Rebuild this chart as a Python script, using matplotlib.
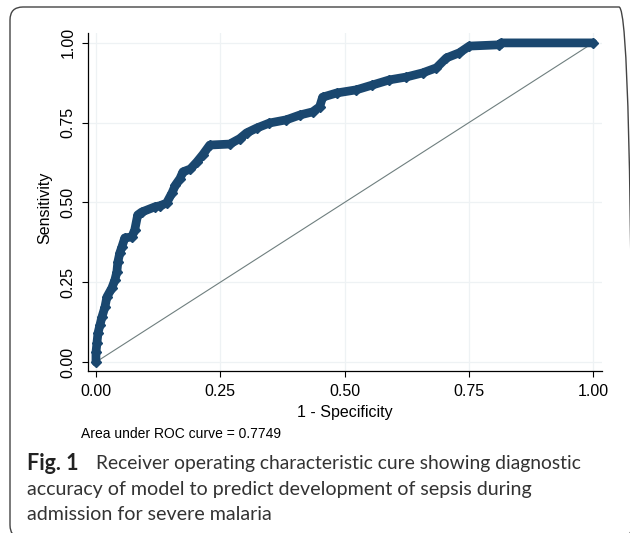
import matplotlib
matplotlib.use("Agg")
import matplotlib.pyplot as plt
from matplotlib.patches import FancyBboxPatch

# ROC curve (1 - specificity, sensitivity)
fpr = [0.000, 0.000, 0.002, 0.004, 0.008, 0.012, 0.018, 0.022, 0.032, 0.038,
       0.042, 0.044, 0.048, 0.052, 0.058, 0.072, 0.078, 0.084, 0.092, 0.118,
       0.129, 0.142, 0.153, 0.160, 0.169, 0.175, 0.190, 0.203, 0.215, 0.229,
       0.269, 0.289, 0.303, 0.323, 0.349, 0.383, 0.410, 0.436, 0.450, 0.456,
       0.484, 0.524, 0.556, 0.590, 0.624, 0.657, 0.685, 0.705, 0.731, 0.751,
       0.811, 0.815, 1.000]
tpr = [0.000, 0.030, 0.060, 0.090, 0.116, 0.141, 0.172, 0.204, 0.232, 0.257,
       0.282, 0.313, 0.342, 0.360, 0.389, 0.392, 0.414, 0.461, 0.470, 0.486,
       0.490, 0.498, 0.530, 0.555, 0.575, 0.596, 0.605, 0.627, 0.650, 0.680,
       0.683, 0.700, 0.718, 0.733, 0.749, 0.759, 0.774, 0.784, 0.800, 0.830,
       0.843, 0.853, 0.868, 0.884, 0.893, 0.906, 0.922, 0.953, 0.969, 0.990,
       0.994, 1.000, 1.000]
ticks = [0.0, 0.25, 0.5, 0.75, 1.0]
tick_labels = ["0.00", "0.25", "0.50", "0.75", "1.00"]
auc_text = "Area under ROC curve = 0.7749"
caption_bold = "Fig. 1"
caption_lines = [
    "Receiver operating characteristic cure showing diagnostic",
    "accuracy of model to predict development of sepsis during",
    "admission for severe malaria",
]

W, H = 630, 533
plt.rcParams["font.family"] = ["Liberation Sans", "DejaVu Sans"]

fig = plt.figure(figsize=(W / 100, H / 100), dpi=100)
ax = fig.add_axes([88 / W, 1 - 371 / H, (602 - 88) / W, (371 - 33) / H])

navy = "#1a476f"
ax.plot([0, 1], [0, 1], color="#6f7f7f", lw=0.8, zorder=2)
ax.plot(fpr, tpr, color=navy, lw=6.3, solid_joinstyle="round",
        solid_capstyle="round", marker="D", ms=5.5, mec=navy, zorder=3)

ax.set_xlim(-0.016, 1.018)
ax.set_ylim(-0.028, 1.031)
ax.set_xticks(ticks)
ax.set_xticklabels(tick_labels)
ax.set_yticks(ticks)
ax.set_yticklabels(tick_labels, rotation=90, va="center")
ax.tick_params(labelsize=11.5, length=4, width=0.8, color="black", pad=5)
ax.grid(True, color="#eef2f4", lw=0.9, zorder=0)
ax.set_axisbelow(True)
for s in ["top", "right"]:
    ax.spines[s].set_visible(False)
for s in ["left", "bottom"]:
    ax.spines[s].set_linewidth(0.9)

fig.text(45 / W, 1 - 208 / H, "Sensitivity", rotation=90, ha="center",
         va="center", fontsize=11.5)
fig.text(345 / W, 1 - 413 / H, "1 - Specificity", ha="center", va="center",
         fontsize=11.5)
fig.text(81 / W, 1 - 434 / H, auc_text, ha="left", va="center", fontsize=10)

cap_font = ["Lato", "DejaVu Sans"]
fig.text(27 / W, 1 - 463 / H, caption_bold, ha="left", va="center",
         fontsize=15.5, fontweight="bold", family=cap_font, color="#222222")
fig.text(96 / W, 1 - 463 / H, caption_lines[0], ha="left", va="center",
         fontsize=13.9, family=cap_font, color="#333333")
for i, line in enumerate(caption_lines[1:]):
    fig.text(27 / W, 1 - (489 + 26 * i) / H, line, ha="left", va="center",
             fontsize=14.1, family=cap_font, color="#333333")

frame = FancyBboxPatch((0.10, -0.05), 6.22, 5.31,
                       boxstyle="round,pad=0,rounding_size=0.13",
                       transform=fig.dpi_scale_trans, fill=False,
                       ec="#444444", lw=1.0)
fig.patches.append(frame)

fig.savefig("out.png", dpi=100)
